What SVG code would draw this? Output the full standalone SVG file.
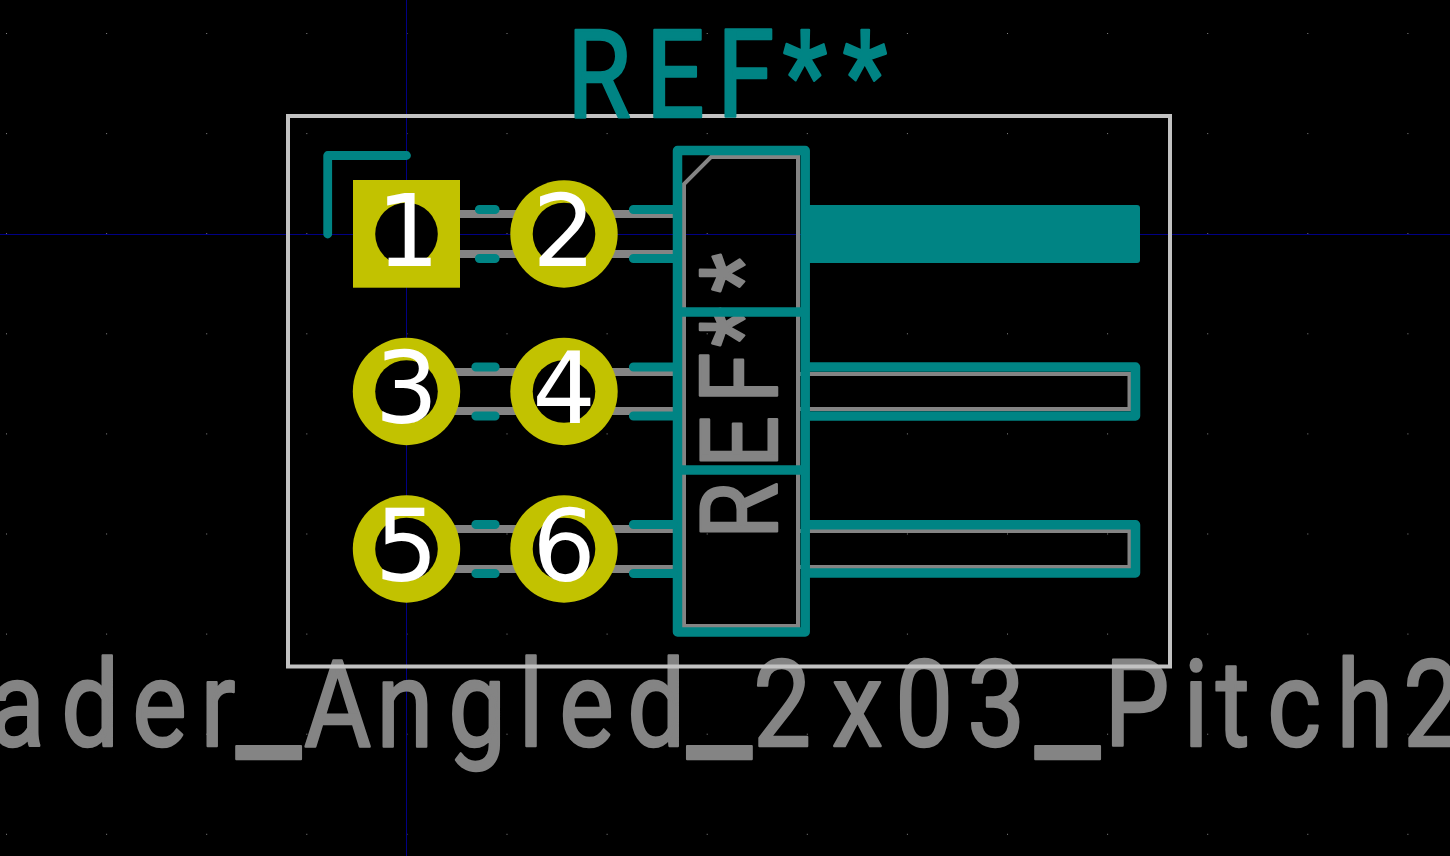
<svg xmlns="http://www.w3.org/2000/svg" width="1450" height="856" viewBox="0 0 1450 856">
<defs>
<style>
.silk{fill:none;stroke:#008484;stroke-width:9.5;stroke-linecap:round;stroke-linejoin:round}
.fab{fill:none;stroke:#848484;stroke-width:4;stroke-linejoin:miter}
.pin{fill:none;stroke:#848484;stroke-width:8}
.pad{fill:#c2c200}
.hole{fill:#000}
.num{font-family:"DejaVu Sans",sans-serif;font-size:100px;fill:#fff;text-anchor:middle}
.big{font-family:Roboto,sans-serif;font-weight:400;stroke-linejoin:round;stroke-linecap:round}
.us{font-size:170px}
</style>
<pattern id="grid" x="6" y="33" width="100.1" height="100.1" patternUnits="userSpaceOnUse"><rect width="1" height="1" fill="#848484"/></pattern>
</defs>
<rect width="1450" height="856" fill="#000"/>
<rect width="1450" height="856" fill="url(#grid)"/>
<g id="axes" stroke="#000084" stroke-width="1"><path d="M0 234.5H1450M406.5 0V856"/></g>

<g id="fab-value"><text class="big" fill="#848484" stroke="#848484" stroke-width="2.5" font-size="121" transform="translate(0,746) scale(.85,1)"><tspan x="-13">a</tspan><tspan x="72">d</tspan><tspan x="155.6">e</tspan><tspan x="236">r</tspan><tspan class="us" x="277.6">_</tspan><tspan x="357.6">A</tspan><tspan x="443">n</tspan><tspan x="527.4">g</tspan><tspan x="610">l</tspan><tspan x="658">e</tspan><tspan x="738">d</tspan><tspan class="us" x="808">_</tspan><tspan x="886.3">2</tspan><tspan x="978.8">x</tspan><tspan x="1053.3">0</tspan><tspan x="1138">3</tspan><tspan class="us" x="1217.6">_</tspan><tspan x="1299.5">P</tspan><tspan x="1392.3">i</tspan><tspan x="1430.6">t</tspan><tspan x="1490.8">c</tspan><tspan x="1572.3">h</tspan><tspan x="1651">2</tspan></text></g>

<g id="fab-lines">
<path class="fab" d="M684 626V184L711 157H798V626Z"/>
<path class="fab" d="M800 374H1129.5V409H800M800 531H1129.5V567H800"/>
<path class="pin" d="M406 214H673M406 254H673M406 372H673M406 411H673M406 529H673M406 569H673"/>
</g>
<g id="fab-ref"><text class="big" fill="#848484" stroke="#848484" stroke-width="2.5" font-size="108" transform="translate(777,532) rotate(-90) scale(.85,1)" x="-8.2 75.3 151.4 218 281.5" y="0">REF**</text></g>

<g id="courtyard"><rect x="288" y="116" width="882" height="550.5" fill="none" stroke="#c2c2c2" stroke-width="4"/></g>

<g id="silk">
<path class="silk" style="stroke-width:8.8" d="M327.7 234V155.5H406.5"/>
<path class="silk" style="stroke-width:9.5;stroke-linecap:butt" d="M677.5 150.5H805.2V632H677.5ZM677.5 312H805M677.5 470H805"/>
<path class="silk" style="stroke-width:9.2" d="M479.5 209.5H495M633.5 209.5H673M479.5 258.5H495M633.5 258.5H673M476 367H495M633.5 367H673M476 416H495M633.5 416H673M476 524.5H495M633.5 524.5H673M476 573.5H495M633.5 573.5H673"/>
<rect x="805" y="205" width="335" height="58" rx="3" fill="#008484"/>
<path class="silk" style="stroke-width:9.5" d="M806 367H1135.5V416H806M806 524.8H1135.5V573H806"/>
</g>
<g id="silk-ref"><text class="big" fill="#008484" stroke="#008484" stroke-width="2.5" font-size="122" transform="translate(0,116.5) scale(.85,1)" x="667 759.8 843.4 921 991.6" y="0">REF**</text></g>

<g id="pad1"><rect class="pad" x="353" y="180" width="107" height="107.7"/><circle class="hole" cx="406.5" cy="234" r="31.3"/><text class="num" x="408" y="265.7">1</text></g>
<g id="pad2"><circle class="pad" cx="564" cy="234" r="53.7"/><circle class="hole" cx="564" cy="234" r="31.3"/><text class="num" x="564" y="265.7">2</text></g>
<g id="pad3"><circle class="pad" cx="406.5" cy="391.5" r="53.7"/><circle class="hole" cx="406.5" cy="391.5" r="31.3"/><text class="num" x="406.5" y="423">3</text></g>
<g id="pad4"><circle class="pad" cx="564" cy="391.5" r="53.7"/><circle class="hole" cx="564" cy="391.5" r="31.3"/><text class="num" x="564" y="423">4</text></g>
<g id="pad5"><circle class="pad" cx="406.5" cy="549" r="53.7"/><circle class="hole" cx="406.5" cy="549" r="31.3"/><text class="num" x="406.5" y="580.5">5</text></g>
<g id="pad6"><circle class="pad" cx="564" cy="549" r="53.7"/><circle class="hole" cx="564" cy="549" r="31.3"/><text class="num" x="564" y="580.5">6</text></g>
</svg>
